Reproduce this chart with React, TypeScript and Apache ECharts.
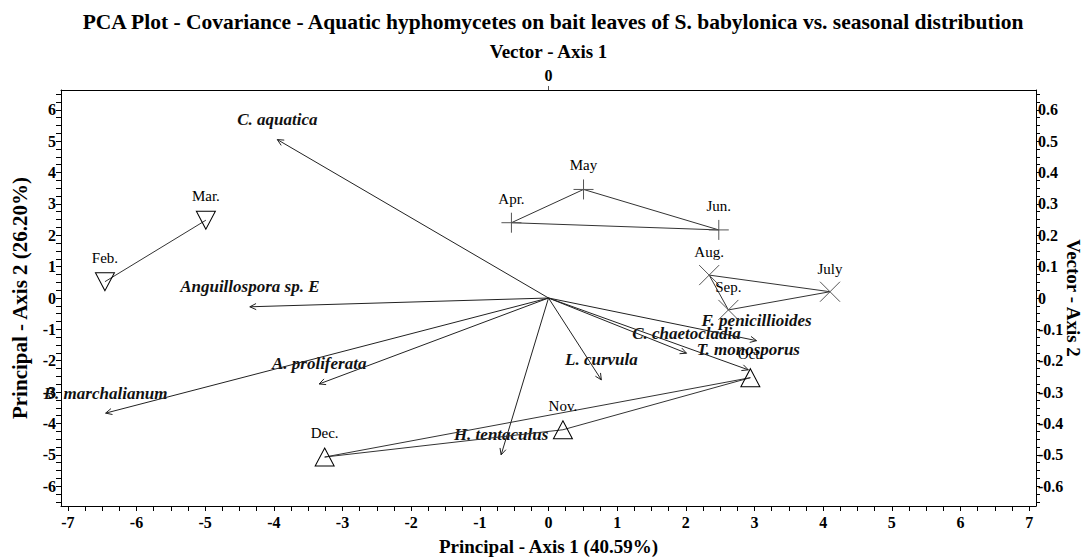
import React, { useEffect, useRef } from "react";
import * as echarts from "echarts";

// ---------- Data ----------
const titleText =
  "PCA Plot - Covariance - Aquatic hyphomycetes on bait leaves of S. babylonica vs. seasonal distribution";

// Month scores (Principal axes 1 & 2)
const winterNames = ["Feb.", "Mar."];
const winterX = [-6.46, -4.99];
const winterY = [0.52, 2.48];

const springNames = ["Apr.", "May", "Jun."];
const springX = [-0.54, 0.51, 2.48];
const springY = [2.4, 3.46, 2.17];

const summerNames = ["Aug.", "July", "Sep."];
const summerX = [2.34, 4.1, 2.62];
const summerY = [0.73, 0.2, -0.38];

const autumnNames = ["Oct.", "Nov.", "Dec."];
const autumnX = [2.94, 0.21, -3.26];
const autumnY = [-2.54, -4.2, -5.07];

// Species vectors (Vector axes 1 & 2)
const speciesNames = [
  "C. aquatica",
  "Anguillospora sp. E",
  "A. proliferata",
  "B. marchalianum",
  "H. tentaculus",
  "L. curvula",
  "C. chaetocladia",
  "F. penicillioides",
  "T. monosporus",
];
const vectorAxis1 = [-0.395, -0.435, -0.334, -0.645, -0.069, 0.077, 0.201, 0.303, 0.291];
const vectorAxis2 = [0.505, -0.028, -0.274, -0.367, -0.5, -0.261, -0.176, -0.136, -0.229];

// Tick labels
const bottomTickLabels = [-7, -6, -5, -4, -3, -2, -1, 0, 1, 2, 3, 4, 5, 6, 7];
const leftTickLabels = [-6, -5, -4, -3, -2, -1, 0, 1, 2, 3, 4, 5, 6];
const rightTickLabels = [-0.6, -0.5, -0.4, -0.3, -0.2, -0.1, 0, 0.1, 0.2, 0.3, 0.4, 0.5, 0.6];
const topTickLabels = [0];

// minor tick positions
function steps(from: number, to: number, step: number, scale: number) {
  const out: number[] = [];
  const n = Math.round((to - from) / step);
  for (let i = 0; i <= n; i++) out.push(Math.round((from + i * step) * scale) / scale);
  return out;
}
const bottomTicks = steps(-7, 7, 0.25, 1000);
const leftTicks = steps(-6.5, 6.5, 0.25, 1000);
const rightTicks = steps(-0.65, 0.65, 0.025, 10000);

const SERIF = '"Liberation Serif", "Times New Roman", serif';

const PLUS = "path://M0,10L20,10M10,0L10,20";
const CROSS = "path://M0,0L20,20M20,0L0,20";

function groupData(names: string[], xs: number[], ys: number[], closed: boolean) {
  const d: any[] = names.map((n, i) => ({ name: n, value: [xs[i], ys[i]] }));
  if (closed) {
    d.push({
      name: "",
      value: [xs[0], ys[0]],
      symbol: "none",
      label: { show: false },
    });
  }
  return d;
}

function monthSeries(data: any[], symbol: string, rotate: number, size: any, color: string, dist: number) {
  return {
    type: "line",
    xAxisIndex: 0,
    yAxisIndex: 0,
    data,
    symbol,
    symbolRotate: rotate,
    symbolSize: size,
    showAllSymbol: true,
    itemStyle: { color: "rgba(0,0,0,0)", borderColor: color, borderWidth: 1 },
    lineStyle: { color: "#333", width: 1 },
    emphasis: { disabled: true },
    label: {
      show: true,
      position: "top",
      distance: dist,
      formatter: "{b}",
      color: "#000",
      fontFamily: SERIF,
      fontSize: 15,
    },
    z: 3,
  };
}

const axisLabelBold = {
  color: "#000",
  fontFamily: SERIF,
  fontWeight: "bold",
  fontSize: 16,
};

const nameStyle = {
  color: "#000",
  fontFamily: SERIF,
  fontWeight: "bold",
  fontSize: 19,
};

export default function App() {
  const ref = useRef<HTMLDivElement>(null);
  useEffect(() => {
    if (!ref.current) return;
    const chart = echarts.init(ref.current, null, { renderer: "svg" });
    const option: any = {
      animation: false,
      backgroundColor: "#fff",
      title: {
        text: titleText,
        left: 548,
        textAlign: "center",
        top: 6,
        textStyle: {
          color: "#000",
          fontFamily: SERIF,
          fontWeight: "bold",
          fontSize: 21.5,
        },
      },
      grid: {
        left: 61,
        right: 47,
        top: 90,
        bottom: 54,
        containLabel: false,
        outerBoundsMode: "none",
      },
      xAxis: [
        {
          type: "value",
          position: "bottom",
          min: -7.1,
          max: 7.1,
          name: "Principal - Axis 1 (40.59%)",
          nameLocation: "middle",
          nameGap: 31,
          nameTextStyle: nameStyle,
          axisLine: { show: true, onZero: false, lineStyle: { color: "#000", width: 1 } },
          axisTick: { show: true, customValues: bottomTicks, length: 5, lineStyle: { color: "#000" } },
          axisLabel: { ...axisLabelBold, customValues: bottomTickLabels, margin: 8, formatter: (v: number) => String(v) },
          splitLine: { show: false },
        },
        {
          type: "value",
          position: "top",
          min: -0.71,
          max: 0.71,
          name: "Vector - Axis 1",
          nameLocation: "middle",
          nameGap: 29,
          nameTextStyle: nameStyle,
          axisLine: { show: true, onZero: false, lineStyle: { color: "#000", width: 1 } },
          axisTick: { show: true, customValues: topTickLabels, length: 4, lineStyle: { color: "#555" } },
          axisLabel: { ...axisLabelBold, customValues: topTickLabels, margin: 7, formatter: (v: number) => String(v) },
          splitLine: { show: false },
        },
      ],
      yAxis: [
        {
          type: "value",
          position: "left",
          min: -6.63,
          max: 6.63,
          name: "Principal - Axis 2 (26.20%)",
          nameLocation: "middle",
          nameGap: 31,
          nameTextStyle: { ...nameStyle, fontSize: 21 },
          axisLine: { show: true, onZero: false, lineStyle: { color: "#000", width: 1 } },
          axisTick: { show: true, customValues: leftTicks, length: 5, lineStyle: { color: "#000" } },
          axisLabel: { ...axisLabelBold, customValues: leftTickLabels, margin: 5, formatter: (v: number) => String(v) },
          splitLine: { show: false },
        },
        {
          type: "value",
          position: "right",
          min: -0.663,
          max: 0.663,
          name: "Vector - Axis 2",
          nameLocation: "middle",
          nameRotate: -90,
          nameGap: 28,
          nameMoveOverlap: false,
          nameTextStyle: { ...nameStyle, fontSize: 19 },
          axisLine: { show: true, onZero: false, lineStyle: { color: "#000", width: 1 } },
          axisTick: { show: true, customValues: rightTicks, length: 4, lineStyle: { color: "#000" } },
          axisLabel: {
            ...axisLabelBold,
            customValues: rightTickLabels,
            margin: 2,
            formatter: (v: number) => String(Math.round(v * 10) / 10),
          },
          splitLine: { show: false },
        },
      ],
      series: [
        {
          type: "custom",
          coordinateSystem: "cartesian2d",
          xAxisIndex: 1,
          yAxisIndex: 1,
          data: vectorAxis1.map((x, i) => [x, vectorAxis2[i]]),
          encode: { x: 0, y: 1 },
          z: 2,
          renderItem: (params: any, api: any) => {
            const o = api.coord([0, 0]);
            const p = api.coord([api.value(0), api.value(1)]);
            const ang = Math.atan2(p[1] - o[1], p[0] - o[0]);
            const L = 7;
            const a = 0.45;
            const h1 = [p[0] - L * Math.cos(ang - a), p[1] - L * Math.sin(ang - a)];
            const h2 = [p[0] - L * Math.cos(ang + a), p[1] - L * Math.sin(ang + a)];
            return {
              type: "group",
              children: [
                {
                  type: "text",
                  x: p[0],
                  y: p[1] - 20,
                  z2: 1,
                  style: {
                    text: speciesNames[params.dataIndex],
                    font: `italic bold 17px ${SERIF}`,
                    fill: "#111",
                    align: "center",
                    verticalAlign: "middle",
                  },
                },
                {
                  type: "line",
                  z2: 2,
                  shape: { x1: o[0], y1: o[1], x2: p[0], y2: p[1] },
                  style: { stroke: "#222", lineWidth: 1 },
                },
                {
                  type: "polyline",
                  z2: 2,
                  shape: { points: [h1, p, h2] },
                  style: { stroke: "#222", fill: "none", lineWidth: 1 },
                },
              ],
            };
          },
        },
        monthSeries(groupData(winterNames, winterX, winterY, false), "triangle", 180, [19, 18], "#000", 7),
        monthSeries(groupData(springNames, springX, springY, true), PLUS, 0, [20, 20], "#555", 6),
        monthSeries(groupData(summerNames, summerX, summerY, true), CROSS, 0, [20, 20], "#555", 5),
        monthSeries(groupData(autumnNames, autumnX, autumnY, true), "triangle", 0, [19, 18], "#000", 7),
      ],
    };
    chart.setOption(option);
    return () => chart.dispose();
  }, []);
  return (
    <div
      ref={ref}
      style={{ position: "fixed", left: 0, top: 0, width: 1083, height: 560, background: "#fff" }}
    />
  );
}
